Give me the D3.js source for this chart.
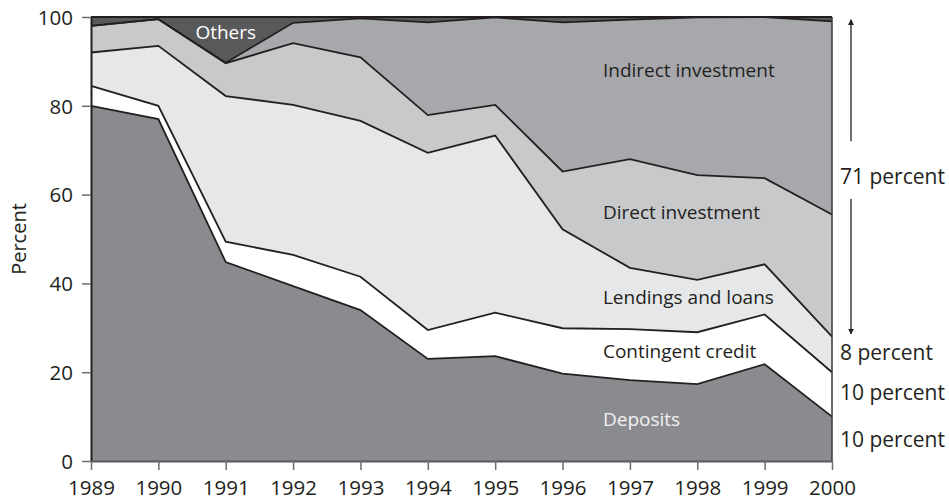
<!DOCTYPE html>
<html>
<head>
<meta charset="utf-8">
<script src="https://cdn.jsdelivr.net/npm/d3@7"></script>
<style>
  html, body { margin: 0; padding: 0; background: #fff; }
  svg { display: block; font-family: "Open Sans", "Noto Sans", sans-serif; }
</style>
</head>
<body>
<svg id="chart" width="949" height="500"></svg>
<script>
// Composition of holdings, percent of total, 1989–2000
const years = [1989, 1990, 1991, 1992, 1993, 1994, 1995, 1996, 1997, 1998, 1999, 2000];
const deposits   = [80, 77, 44.8, 39.4, 34, 23, 23.6, 19.7, 18.2, 17.3, 21.8, 10];
const contingent = [4.5, 3, 4.6, 7, 7.5, 6.5, 9.8, 10.2, 11.5, 11.7, 11.2, 10];
const lendings   = [7.5, 13.5, 32.8, 33.8, 35.1, 39.9, 39.9, 22.3, 13.8, 11.8, 11.3, 8];
const direct     = [6, 6, 7.4, 13.9, 14.3, 8.5, 6.9, 13, 24.5, 23.6, 19.4, 27.5];
const indirect   = [0, 0, 0.1, 4.6, 8.8, 20.9, 19.7, 33.6, 31.4, 35.5, 36.3, 43.5];
const others     = [2, 0.5, 10.3, 1.3, 0.3, 1.2, 0.1, 1.2, 0.6, 0.1, 0, 1];
const yTicks = [0, 20, 40, 60, 80, 100];

const seriesKeys = ["deposits", "contingent", "lendings", "direct", "indirect", "others"];
const seriesValues = { deposits, contingent, lendings, direct, indirect, others };
const fills = {
  deposits: "#8a8b8e",
  contingent: "#ffffff",
  lendings: "#e6e7e9",
  direct: "#c8c9cb",
  indirect: "#a7a8ab",
  others: "#58595b"
};

const rows = years.map((yr, i) => {
  const r = { year: yr };
  seriesKeys.forEach(k => r[k] = seriesValues[k][i]);
  return r;
});

const svg = d3.select("#chart");
const x = d3.scaleLinear().domain([1989, 2000]).range([91, 832]);
const y = d3.scaleLinear().domain([0, 100]).range([461, 17]);

const stacked = d3.stack().keys(seriesKeys)(rows);

const area = d3.area()
  .x(d => x(d.data.year))
  .y0(d => y(d[0]))
  .y1(d => y(d[1]));

svg.append("g").selectAll("path")
  .data(stacked)
  .join("path")
  .attr("d", area)
  .attr("fill", d => fills[d.key]);

// boundary lines between layers
const topLine = d3.line()
  .x(d => x(d.data.year))
  .y(d => y(d[1]));

svg.append("g").selectAll("path")
  .data(stacked.slice(0, 5))
  .join("path")
  .attr("d", topLine)
  .attr("fill", "none")
  .attr("stroke", "#231f20")
  .attr("stroke-width", 1.8)
  .attr("stroke-linejoin", "miter");

// frame: top and right edges
svg.append("line")
  .attr("x1", x(1989)).attr("x2", x(2000))
  .attr("y1", y(100)).attr("y2", y(100))
  .attr("stroke", "#231f20").attr("stroke-width", 2);
svg.append("line")
  .attr("x1", x(2000)).attr("x2", x(2000))
  .attr("y1", y(100)).attr("y2", y(0))
  .attr("stroke", "#3a3a3c").attr("stroke-width", 1.5);

// axes
const tickFont = 20.5;
const yAxis = d3.axisLeft(y).tickValues(yTicks).tickSize(9).tickSizeOuter(0).tickPadding(9);
const gy = svg.append("g").attr("transform", `translate(${x(1989)},0)`).call(yAxis);
const xAxis = d3.axisBottom(x).tickValues(years).tickFormat(d3.format("d"))
  .tickSize(9).tickSizeOuter(0).tickPadding(10);
const gx = svg.append("g").attr("transform", `translate(0,${y(0)})`).call(xAxis);

gy.select(".domain").attr("stroke", "#231f20").attr("stroke-width", 2);
gx.select(".domain").attr("stroke", "#58595b").attr("stroke-width", 2);
[gy, gx].forEach(g => {
  g.selectAll(".tick line").attr("stroke", "#6d6e71").attr("stroke-width", 1.5);
  g.selectAll(".tick text")
    .attr("fill", "#231f20")
    .attr("font-size", tickFont)
    .attr("font-family", "'Open Sans', 'Noto Sans', sans-serif");
});
gy.selectAll(".tick text").attr("dy", "0.36em");

svg.append("text")
  .attr("transform", `translate(26,${(y(0) + y(100)) / 2}) rotate(-90)`)
  .attr("text-anchor", "middle")
  .attr("font-size", 20)
  .attr("fill", "#231f20")
  .text("Percent");

// series labels inside the areas
const inLabels = [
  { text: "Others", x: 1991, y: 96.5, anchor: "middle", color: "#ffffff" },
  { text: "Indirect investment", x: 1996.6, y: 88, anchor: "start", color: "#231f20" },
  { text: "Direct investment", x: 1996.6, y: 56, anchor: "start", color: "#231f20" },
  { text: "Lendings and loans", x: 1996.6, y: 36.9, anchor: "start", color: "#231f20" },
  { text: "Contingent credit", x: 1996.6, y: 24.6, anchor: "start", color: "#231f20" },
  { text: "Deposits", x: 1996.6, y: 9.3, anchor: "start", color: "#f1f1f2" }
];
svg.append("g").selectAll("text")
  .data(inLabels)
  .join("text")
  .attr("x", d => x(d.x))
  .attr("y", d => y(d.y))
  .attr("dy", "0.35em")
  .attr("text-anchor", d => d.anchor)
  .attr("fill", d => d.color)
  .attr("font-size", 19)
  .text(d => d.text);

// shares in 2000, labelled right of the plot
const shareLabels = [
  { text: "71 percent", y: 64 },
  { text: "8 percent", y: 24.3 },
  { text: "10 percent", y: 15.3 },
  { text: "10 percent", y: 4.7 }
];
svg.append("g").selectAll("text")
  .data(shareLabels)
  .join("text")
  .attr("x", 840)
  .attr("y", d => y(d.y))
  .attr("dy", "0.35em")
  .attr("font-size", 21)
  .attr("fill", "#231f20")
  .text(d => d.text);

// double-headed bracket for the investment share
const defs = svg.append("defs");
["start", "end"].forEach(k => {
  defs.append("marker")
    .attr("id", "arrow-" + k)
    .attr("viewBox", "0 0 10 10")
    .attr("refX", 9).attr("refY", 5)
    .attr("markerWidth", 6).attr("markerHeight", 10)
    .attr("markerUnits", "userSpaceOnUse")
    .attr("orient", k === "start" ? "auto-start-reverse" : "auto")
    .append("path")
    .attr("d", "M0,0 L10,5 L0,10 z")
    .attr("fill", "#231f20");
});
const ax = 851;
svg.append("line")
  .attr("x1", ax).attr("x2", ax)
  .attr("y1", y(99.4)).attr("y2", y(72))
  .attr("stroke", "#231f20").attr("stroke-width", 1.3)
  .attr("marker-start", "url(#arrow-start)");
svg.append("line")
  .attr("x1", ax).attr("x2", ax)
  .attr("y1", y(59)).attr("y2", y(28.6))
  .attr("stroke", "#231f20").attr("stroke-width", 1.3)
  .attr("marker-end", "url(#arrow-end)");
</script>
</body>
</html>
